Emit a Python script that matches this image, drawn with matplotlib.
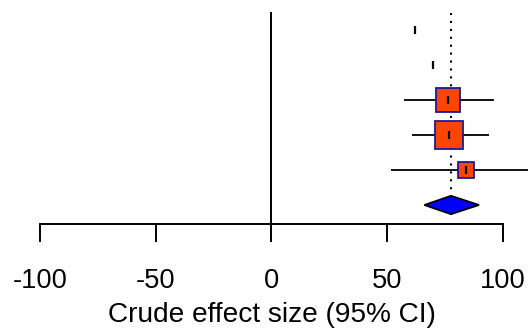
import numpy as np
import matplotlib
matplotlib.use("Agg")
import matplotlib.pyplot as plt
from matplotlib.patches import Polygon

# ---- data ----
rows = [1, 2, 3, 4, 5]
estimates = [62.2, 70.0, 76.5, 77.0, 84.0]
lower = [np.nan, np.nan, 57.2, 60.8, 51.8]
upper = [np.nan, np.nan, 96.1, 94.0, 118.0]
weights = [0.0, 0.0, 34.5, 50.5, 15.0]
summary_est = 77.7
summary_lower = 66.2
summary_upper = 89.8
xticks = [-100, -50, 0, 50, 100]
xlabel = "Crude effect size (95% CI)"

# ---- figure ----
fig = plt.figure(figsize=(5.28, 3.29), dpi=100)
ax = fig.add_axes([0, 0, 1, 1])
ax.set_xlim(-117.3, 111.0)
ax.set_ylim(9.543, 0.143)
ax.axis("off")

fam = ["Liberation Sans", "DejaVu Sans"]

# reference line at 0
ax.plot([0, 0], [0.486, 6.529], color="black", lw=1.4, solid_capstyle="butt", zorder=1)
# summary dotted line
ax.plot([summary_est, summary_est], [0.514, 5.62], color="black", lw=1.5,
        linestyle=(0, (1, 2.8)), zorder=1)

# CIs
for r, lo, hi in zip(rows, lower, upper):
    if not np.isnan(lo):
        ax.plot([lo, hi], [r, r], color="black", lw=1.3, solid_capstyle="butt", zorder=2)

# boxes
wmax = max(weights)
for r, e, w in zip(rows, estimates, weights):
    if w > 0:
        side_px = 28.0 * np.sqrt(w / wmax)
        ax.plot([e], [r], marker="s", markersize=side_px * 0.72,
                markerfacecolor="#FF4500", markeredgecolor="#1a1a9a",
                markeredgewidth=1.3, linestyle="none", zorder=3)
    # point estimate tick
    ax.plot([e, e], [r - 0.12, r + 0.12], color="black", lw=1.6,
            solid_capstyle="butt", zorder=4)

# summary diamond
sr = 6
dh = 0.262
diamond = Polygon([[summary_lower, sr], [summary_est, sr - dh],
                   [summary_upper, sr], [summary_est, sr + dh]],
                  closed=True, facecolor="#0000FF", edgecolor="black", lw=1.3, zorder=3)
ax.add_patch(diamond)

# x axis
ax_y = 6.529
ax.plot([xticks[0], xticks[-1]], [ax_y, ax_y], color="black", lw=1.4,
        solid_capstyle="projecting", zorder=1)
for t in xticks:
    ax.plot([t, t], [ax_y, 7.057], color="black", lw=1.4, solid_capstyle="butt", zorder=1)
    ax.text(t, 8.371, f"{t}", ha="center", va="baseline", family=fam, size=19.6)

ax.text(0.2, 9.33, xlabel, ha="center", va="baseline", family=fam, size=20.2)

fig.savefig("out.png", dpi=100)
